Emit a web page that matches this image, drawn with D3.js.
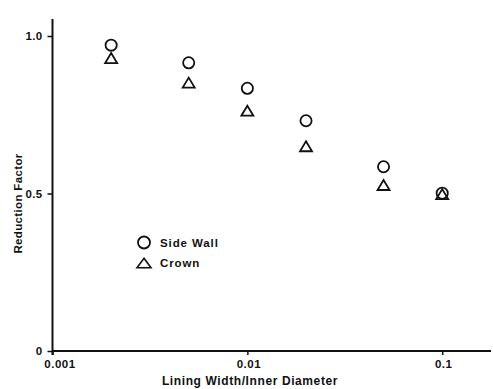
<!DOCTYPE html>
<html><head><meta charset="utf-8">
<script src="https://cdn.jsdelivr.net/npm/d3@7"></script>
<style>
html,body{margin:0;padding:0;background:#fff;}
svg{display:block;}
text{font-family:"Liberation Sans",Arial,Helvetica,sans-serif;font-weight:bold;fill:#111;}
</style></head><body>
<svg id="c" width="493" height="389"></svg>
<script>
const ratios = [0.002, 0.005, 0.01, 0.02, 0.05, 0.1];
const sideWall = [0.971, 0.915, 0.834, 0.731, 0.585, 0.501];
const crown = [0.930, 0.852, 0.763, 0.650, 0.527, 0.498];
const xTicks = [0.001, 0.01, 0.1];
const xTickLabels = ["0.001", "0.01", "0.1"];
const yTicks = [0, 0.5, 1.0];
const yTickLabels = ["0", "0.5", "1.0"];
const seriesNames = ["Side Wall", "Crown"];

const svg = d3.select("#c");
const x = d3.scaleLog().domain([0.001, 0.178]).range([52.5, 491]);
const y = d3.scaleLinear().domain([0, 1.054]).range([351, 19]);
const ink = "#111";

// axes
const xAxis = d3.axisBottom(x).tickValues(xTicks).tickSize(4)
  .tickFormat((d,i)=>xTickLabels[i]);
const gx = svg.append("g").attr("transform","translate(0,351)").call(xAxis);
gx.select(".domain").attr("d", `M${x.range()[0]},0H${x.range()[1]}`).attr("stroke",ink).attr("stroke-width",2);
gx.selectAll(".tick line").attr("stroke",ink).attr("stroke-width",1.5);
gx.selectAll(".tick text").attr("font-size",11.5).attr("letter-spacing",0.5)
  .attr("fill",ink).attr("y",8.5).attr("dy","0.71em")
  .attr("dx",(d,i)=> i===0 ? 7 : 1);

const yAxis = d3.axisLeft(y).tickValues(yTicks).tickSize(5)
  .tickFormat((d,i)=>yTickLabels[i]);
const gy = svg.append("g").attr("transform","translate(52.5,0)").call(yAxis);
gy.select(".domain").attr("d", `M0,${y.range()[0]+4}V${y.range()[1]}`).attr("stroke",ink).attr("stroke-width",2);
gy.selectAll(".tick line").attr("stroke",ink).attr("stroke-width",1.5);
gy.selectAll(".tick text").attr("font-size",11.5).attr("fill",ink).attr("x",-10).attr("letter-spacing",0.3);

// labels
svg.append("text").attr("x",250).attr("y",385).attr("text-anchor","middle")
  .attr("font-size",12).attr("letter-spacing",0.6).text("Lining Width/Inner Diameter");
svg.append("text").attr("transform","translate(21.5,203.5) rotate(-90)").attr("text-anchor","middle")
  .attr("font-size",11.5).attr("letter-spacing",0.35).text("Reduction Factor");

// markers
const triPath = (w,h)=>`M0,${-h/2}L${w/2},${h/2}L${-w/2},${h/2}Z`;
const data = ratios.map((r,i)=>({r, s:sideWall[i], c:crown[i]}));
svg.append("g").selectAll("circle").data(data).join("circle")
  .attr("cx",d=>x(d.r)).attr("cy",d=>y(d.s)).attr("r",5.6)
  .attr("fill","none").attr("stroke",ink).attr("stroke-width",1.8);
svg.append("g").selectAll("path").data(data).join("path")
  .attr("transform",d=>`translate(${x(d.r)},${y(d.c)})`)
  .attr("d",triPath(12,10))
  .attr("fill","none").attr("stroke",ink).attr("stroke-width",1.8).attr("stroke-linejoin","miter");

// legend
const lg = svg.append("g").attr("transform","translate(144,0)");
lg.append("circle").attr("cx",0).attr("cy",242.5).attr("r",6)
  .attr("fill","none").attr("stroke",ink).attr("stroke-width",1.8);
lg.append("path").attr("transform","translate(0,263)").attr("d",triPath(14,9.5))
  .attr("fill","none").attr("stroke",ink).attr("stroke-width",1.6);
lg.append("text").attr("x",16).attr("y",246.5).attr("font-size",11.5).attr("letter-spacing",0.9).text(seriesNames[0]);
lg.append("text").attr("x",16).attr("y",267).attr("font-size",11.5).attr("letter-spacing",0.9).text(seriesNames[1]);
</script>
</body></html>
